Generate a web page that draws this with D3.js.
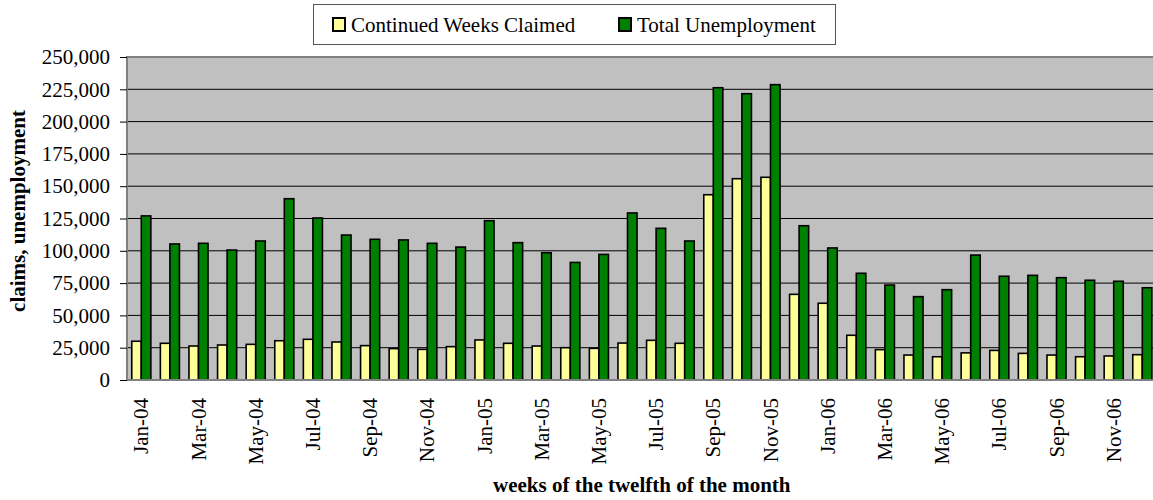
<!DOCTYPE html>
<html>
<head>
<meta charset="utf-8">
<script src="https://cdn.jsdelivr.net/npm/d3@7"></script>
<style>
  body { margin: 0; background: #fff; }
  svg { display: block; overflow: hidden; }
  text { font-family: "Liberation Serif", "Times New Roman", serif; fill: #000; }
</style>
</head>
<body>
<svg id="chart" width="1153" height="500"></svg>
<script>
  // months on the x axis
  let months = ['Jan-04','Feb-04','Mar-04','Apr-04','May-04','Jun-04','Jul-04','Aug-04','Sep-04','Oct-04','Nov-04','Dec-04',
    'Jan-05','Feb-05','Mar-05','Apr-05','May-05','Jun-05','Jul-05','Aug-05','Sep-05','Oct-05','Nov-05','Dec-05',
    'Jan-06','Feb-06','Mar-06','Apr-06','May-06','Jun-06','Jul-06','Aug-06','Sep-06','Oct-06','Nov-06','Dec-06']

  let continuedWeeks = [30000, 28400, 26300, 27100, 27600, 30400, 31500, 29400, 26600, 24300, 23700, 25800,
    31000, 28400, 26300, 25000, 24500, 28600, 30700, 28400, 143400, 155800, 156900, 66300,
    59400, 34600, 23500, 19300, 18000, 21000, 22900, 20600, 19300, 18000, 18600, 19600]

  let totalUnemployment = [127000, 105300, 105800, 100600, 107600, 140300, 125400, 112200, 108900, 108400, 105800, 102900,
    123300, 106300, 98500, 91000, 97200, 129300, 117400, 107600, 226200, 221600, 228600, 119400,
    102200, 82600, 73500, 64500, 69900, 96700, 80300, 81000, 79200, 77200, 76400, 71400]

  let seriesNames = ['Continued Weeks Claimed', 'Total Unemployment']
  let yTicks = [0, 25000, 50000, 75000, 100000, 125000, 150000, 175000, 200000, 225000, 250000]

  let svg = d3.select('#chart')
  let plotLeft = 127, plotTop = 57, plotBottom = 380
  let plotRight = plotLeft + months.length * 28.6   // plot runs past the picture edge

  let color = d3.scaleOrdinal().domain(seriesNames).range(['#FFFF99', '#008000'])

  let x = d3.scaleBand().domain(months).range([plotLeft, plotRight])
  let x1 = d3.scaleBand().domain(seriesNames).range([0, x.bandwidth()]).paddingOuter(0.5)
  let y = d3.scaleLinear().domain([0, 250000]).range([plotBottom, plotTop])

  // plot background
  svg.append('rect')
    .attr('x', plotLeft).attr('y', plotTop)
    .attr('width', plotRight - plotLeft).attr('height', plotBottom - plotTop)
    .attr('fill', '#C0C0C0')

  // gridlines
  svg.append('g')
    .selectAll('line')
    .data(yTicks.slice(1))
    .enter()
    .append('line')
    .attr('x1', plotLeft).attr('x2', plotRight)
    .attr('y1', d => y(d)).attr('y2', d => y(d))
    .attr('stroke', '#000')
    .attr('stroke-width', 1)

  let rows = months.map((m, i) => ({ month: m, values: [continuedWeeks[i], totalUnemployment[i]] }))

  let groups = svg.append('g')
    .selectAll('g')
    .data(rows)
    .enter()
    .append('g')
    .attr('transform', d => `translate(${x(d.month)},0)`)

  groups.selectAll('rect')
    .data(d => d.values.map((v, j) => ({ name: seriesNames[j], value: v })))
    .enter()
    .append('rect')
    .attr('x', d => x1(d.name))
    .attr('y', d => y(d.value))
    .attr('width', x1.bandwidth())
    .attr('height', d => plotBottom - y(d.value))
    .attr('fill', d => color(d.name))
    .attr('stroke', '#000')
    .attr('stroke-width', 1.6)

  // plot border (top / left / bottom)
  svg.append('path')
    .attr('d', `M${plotRight},${plotTop}H${plotLeft}V${plotBottom}H${plotRight}`)
    .attr('fill', 'none')
    .attr('stroke', '#808080')
    .attr('stroke-width', 2)

  // y axis
  let yAxis = svg.append('g')
    .attr('transform', `translate(${plotLeft},0)`)
    .call(d3.axisLeft(y).tickValues(yTicks).tickFormat(d3.format(',')).tickSize(7).tickPadding(10))
  yAxis.select('.domain').remove()
  yAxis.selectAll('line').attr('stroke', '#000')
  yAxis.selectAll('text')
    .style('font-size', '21px')
  yAxis.attr('font-family', null)

  // x axis, every other month labelled
  let xAxis = svg.append('g')
    .attr('transform', `translate(0,${plotBottom})`)
    .call(d3.axisBottom(x).tickValues(months.filter((m, i) => i % 2 == 0)).tickSize(0))
  xAxis.select('.domain').remove()
  xAxis.attr('font-family', null)
  xAxis.selectAll('text')
    .attr('transform', 'rotate(-90)')
    .attr('x', -18)
    .attr('y', 0)
    .attr('dy', '0.34em')
    .attr('text-anchor', 'end')
    .style('font-size', '21px')

  // axis titles
  svg.append('text')
    .attr('x', (plotLeft + plotRight) / 2)
    .attr('y', 492)
    .attr('text-anchor', 'middle')
    .style('font-size', '21px')
    .style('font-weight', 'bold')
    .text('weeks of the twelfth of the month')

  svg.append('text')
    .attr('transform', 'translate(25,211) rotate(-90)')
    .attr('text-anchor', 'middle')
    .style('font-size', '21px')
    .style('font-weight', 'bold')
    .text('claims, unemployment')

  // legend
  let legend = svg.append('g')
  legend.append('rect')
    .attr('x', 313.5).attr('y', 4.5)
    .attr('width', 522).attr('height', 40)
    .attr('fill', '#fff')
    .attr('stroke', '#555')
    .attr('stroke-width', 1)

  let legendX = [332, 618]
  let items = legend.selectAll('g.item')
    .data(seriesNames)
    .enter()
    .append('g')
    .attr('class', 'item')
    .attr('transform', (d, i) => `translate(${legendX[i]},0)`)

  items.append('rect')
    .attr('x', 1).attr('y', 18)
    .attr('width', 12).attr('height', 13)
    .attr('fill', d => color(d))
    .attr('stroke', '#000')
    .attr('stroke-width', 2)

  items.append('text')
    .attr('x', 19)
    .attr('y', 32)
    .style('font-size', '21px')
    .text(d => d)
</script>
</body>
</html>
